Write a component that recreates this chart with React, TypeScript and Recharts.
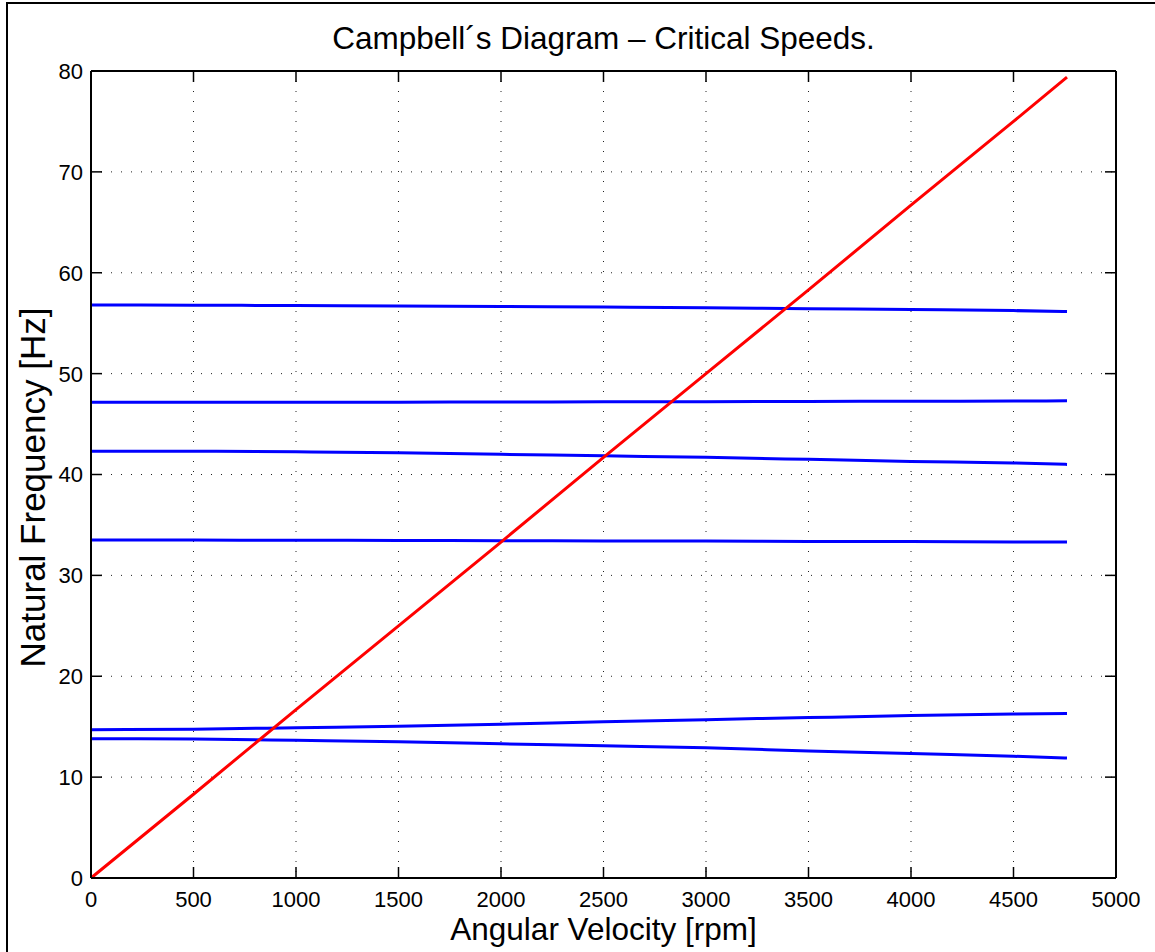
import React from "react";
import { LineChart, Line, XAxis, YAxis, CartesianGrid, Label, ReferenceLine } from "recharts";

// rotor speed samples [rpm]
const rpm = [0, 500, 1000, 1500, 2000, 2500, 3000, 3500, 4000, 4500, 4761];

// natural frequencies of each mode [Hz]
const mode1 = [13.8, 13.78, 13.65, 13.5, 13.3, 13.1, 12.9, 12.6, 12.33, 12.07, 11.9];
const mode2 = [14.7, 14.75, 14.9, 15.05, 15.25, 15.5, 15.7, 15.9, 16.1, 16.25, 16.3];
const mode3 = [33.5, 33.5, 33.48, 33.46, 33.44, 33.42, 33.4, 33.37, 33.35, 33.32, 33.3];
const mode4 = [42.3, 42.3, 42.25, 42.15, 42.0, 41.85, 41.7, 41.5, 41.3, 41.15, 41.0];
const mode5 = [47.15, 47.15, 47.15, 47.17, 47.18, 47.2, 47.22, 47.24, 47.26, 47.28, 47.3];
const mode6 = [56.8, 56.78, 56.75, 56.7, 56.65, 56.6, 56.52, 56.44, 56.36, 56.25, 56.15];

// 1x excitation line
const excitation = [0, 8.3, 16.7, 25, 33.3, 41.7, 50, 58.3, 66.7, 75, 79.4];

const xTicks = [0, 500, 1000, 1500, 2000, 2500, 3000, 3500, 4000, 4500, 5000];
const yTicks = [0, 10, 20, 30, 40, 50, 60, 70, 80];

const modes = [mode1, mode2, mode3, mode4, mode5, mode6];

const data = rpm.map((r, i) => {
  const row: Record<string, number> = { rpm: r, exc: excitation[i] };
  modes.forEach((m, k) => {
    row["m" + (k + 1)] = m[i];
  });
  return row;
});

const FONT = "'Liberation Sans', Arial, Helvetica, sans-serif";

// plot box (matlab style axes)
const TOP = 71;
const BOTTOM = 878;
const LEFT = 91;
const RIGHT = 1116;
const TICK = 11;

const XTick = ({ x, payload }: any) => (
  <g>
    <line x1={x} x2={x} y1={BOTTOM} y2={BOTTOM - TICK} stroke="#000" strokeWidth={1.5} />
    <line x1={x} x2={x} y1={TOP} y2={TOP + TICK} stroke="#000" strokeWidth={1.5} />
    <text x={x} y={BOTTOM + 28.5} textAnchor="middle" fontSize={22} fontFamily={FONT} fill="#000">
      {payload.value}
    </text>
  </g>
);

const YTick = ({ y, payload }: any) => (
  <g>
    <line x1={LEFT} x2={LEFT + TICK} y1={y} y2={y} stroke="#000" strokeWidth={1.5} />
    <line x1={RIGHT} x2={RIGHT - TICK} y1={y} y2={y} stroke="#000" strokeWidth={1.5} />
    <text x={LEFT - 8} y={y} dy="0.36em" textAnchor="end" fontSize={22} fontFamily={FONT} fill="#000">
      {payload.value}
    </text>
  </g>
);

const XTitle = ({ viewBox }: any) => (
  <text
    x={viewBox.x + viewBox.width / 2}
    y={viewBox.y + 62}
    textAnchor="middle"
    fontSize={31.5}
    fontFamily={FONT}
    fill="#000"
  >
    Angular Velocity [rpm]
  </text>
);

const YTitle = ({ viewBox }: any) => {
  const cx = 45;
  const cy = viewBox.y + viewBox.height / 2 + 13;
  return (
    <text
      x={cx}
      y={cy}
      transform={`rotate(-90 ${cx} ${cy})`}
      textAnchor="middle"
      fontSize={35}
      fontFamily={FONT}
      fill="#000"
    >
      Natural Frequency [Hz]
    </text>
  );
};

const App = () => {
  return (
    <div
      style={{
        position: "absolute",
        left: 0,
        top: 0,
        width: 1155,
        height: 952,
        overflow: "hidden",
        background: "#fff",
      }}
    >
      <div
        style={{
          position: "absolute",
          left: 6,
          top: 2,
          width: 1200,
          height: 1000,
          border: "2px solid #000",
        }}
      />
      <div
        style={{
          position: "absolute",
          left: LEFT,
          top: 23,
          width: RIGHT - LEFT,
          textAlign: "center",
          fontFamily: FONT,
          fontSize: 31.5,
          lineHeight: "31.5px",
          color: "#000",
          whiteSpace: "nowrap",
        }}
      >
        Campbell´s Diagram – Critical Speeds.
      </div>
      <div style={{ position: "absolute", left: 0, top: 0 }}>
        <LineChart
          width={1155}
          height={952}
          data={data}
          margin={{ top: TOP, right: 1155 - RIGHT, bottom: 0, left: 0 }}
        >
          <CartesianGrid stroke="#222" strokeDasharray="1 9" strokeWidth={1} />
          <XAxis
            type="number"
            dataKey="rpm"
            domain={[0, 5000]}
            ticks={xTicks}
            interval={0}
            height={952 - BOTTOM}
            stroke="#000"
            strokeWidth={2}
            tickLine={false}
            tick={<XTick />}
          >
            <Label content={XTitle} />
          </XAxis>
          <YAxis
            type="number"
            domain={[0, 80]}
            ticks={yTicks}
            interval={0}
            width={LEFT}
            stroke="#000"
            strokeWidth={2}
            tickLine={false}
            tick={<YTick />}
          >
            <Label content={YTitle} />
          </YAxis>
          <ReferenceLine y={80} stroke="#000" strokeWidth={2} />
          <ReferenceLine x={5000} stroke="#000" strokeWidth={2} />
          {modes.map((_, k) => (
            <Line
              key={k}
              type="monotone"
              dataKey={"m" + (k + 1)}
              stroke="#0000ff"
              strokeWidth={3}
              dot={false}
              activeDot={false}
              isAnimationActive={false}
            />
          ))}
          <Line
            type="linear"
            dataKey="exc"
            stroke="#ff0000"
            strokeWidth={3}
            dot={false}
            activeDot={false}
            isAnimationActive={false}
          />
        </LineChart>
      </div>
    </div>
  );
};

export default App;
